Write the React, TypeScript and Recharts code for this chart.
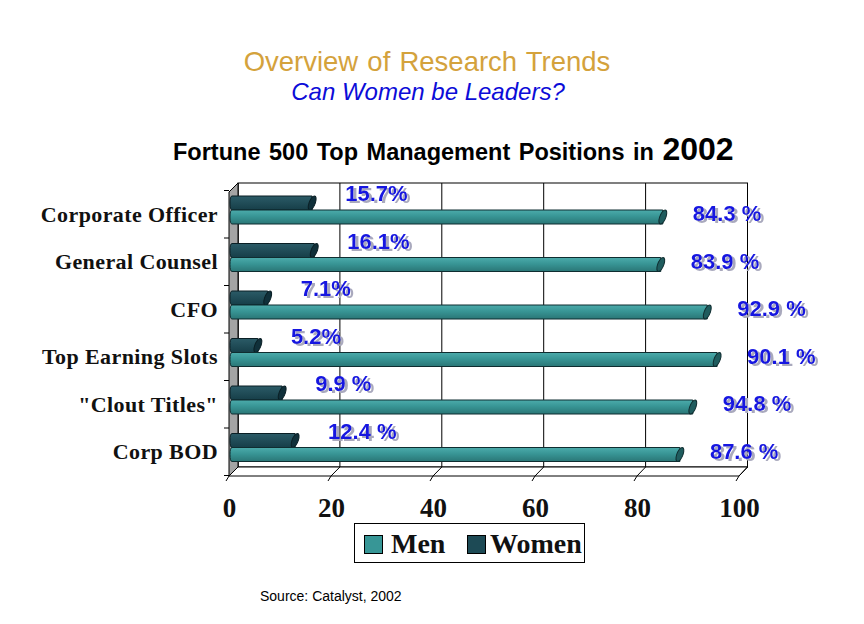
import React from "react";
import { BarChart, Bar, XAxis, YAxis, ReferenceArea, LabelList } from "recharts";

const categories = [
  "Corporate Officer",
  "General Counsel",
  "CFO",
  "Top Earning Slots",
  "\"Clout Titles\"",
  "Corp BOD",
];
const menValues = [84.3, 83.9, 92.9, 94.8, 90.1, 87.6];
const womenValues = [15.7, 16.1, 7.1, 5.2, 9.9, 12.4];
const menLabels = ["84.3 %", "83.9 %", "92.9 %", "90.1 %", "94.8 %", "87.6 %"];
const womenLabels = ["15.7%", "16.1%", "7.1%", "5.2%", "9.9 %", "12.4 %"];
const xTicks = [0, 20, 40, 60, 80, 100];
const seriesNames = ["Men", "Women"];

const data = categories.map((name, i) => ({
  name,
  men: menValues[i],
  women: womenValues[i],
  menLabel: menLabels[i],
  womenLabel: womenLabels[i],
}));

const W = 864;
const H = 624;
const MARGIN = { top: 186, right: 117, bottom: 93, left: 30 };
const Y_AXIS_W = 200;
const X_AXIS_H = 60;
const PLOT_LEFT = MARGIN.left + Y_AXIS_W;
const FRONT_SCALE = 510 / 517;

const SANS = "'Liberation Sans', Arial, sans-serif";
const SERIF = "'Liberation Serif', 'Times New Roman', serif";
const MEN_COLOR = "#379696";
const WOMEN_COLOR = "#1d4a55";
const LABEL_BLUE = "#1414e0";

const frontX = (x: number) => PLOT_LEFT - 0.5 + (x - PLOT_LEFT) * FRONT_SCALE;

const FrameShape = (p: any) => {
  const { x, y, width, height } = p;
  if (x == null || width == null) return null;
  const bx0 = x + 8;
  const bx1 = x + width + 0.5;
  const bTop = y - 3;
  const bBot = y + height - 4;
  const fx0 = x - 1;
  const fx1 = x + width - 8;
  const fBot = y + height + 5;
  const bx = (v: number) => bx0 + ((bx1 - bx0) * v) / 100;
  const fx = (v: number) => fx0 + ((fx1 - fx0) * v) / 100;
  const n = categories.length;
  return (
    <g>
      <rect x={bx0} y={bTop} width={bx1 - bx0} height={bBot - bTop} fill="#fff" stroke="#000" strokeWidth={1} />
      {xTicks.map((v) => (
        <line key={"g" + v} x1={bx(v)} y1={bTop} x2={bx(v)} y2={bBot} stroke="#000" strokeWidth={1} />
      ))}
      <polygon
        points={`${bx0},${bBot} ${bx1},${bBot} ${fx1},${fBot} ${fx0},${fBot}`}
        fill="#fff"
        stroke="#000"
        strokeWidth={1}
      />
      {xTicks.map((v) => (
        <g key={"f" + v}>
          <line x1={bx(v)} y1={bBot} x2={fx(v)} y2={fBot} stroke="#000" strokeWidth={1} />
          <line x1={fx(v)} y1={fBot} x2={fx(v) - 3} y2={fBot + 5} stroke="#000" strokeWidth={1} />
        </g>
      ))}
      <polygon
        points={`${fx0},${y + 6} ${bx0},${bTop} ${bx0},${bBot} ${fx0},${fBot}`}
        fill="#a4a4a4"
        stroke="#000"
        strokeWidth={1}
      />
      {Array.from({ length: n + 1 }).map((_, k) => {
        const ty = y + 4.5 + (k * height) / n;
        return <line key={"t" + k} x1={fx0 - 5} y1={ty} x2={fx0} y2={ty} stroke="#000" strokeWidth={1} />;
      })}
    </g>
  );
};

const makeBarShape = (gradId: string, capFill: string, stroke: string, capShift: number) => (p: any) => {
  const { x, y, width, height } = p;
  if (!width || width <= 0) return null;
  const bodyEnd = x + width + capShift;
  const cy = y + height / 2;
  return (
    <g>
      <path
        d={`M${x + 2},${y} L${bodyEnd},${y} L${bodyEnd},${y + height} L${x + 2},${y + height} Q${x},${y + height} ${x},${cy} Q${x},${y} ${x + 2},${y} Z`}
        fill={`url(#${gradId})`}
        stroke={stroke}
        strokeWidth={1}
      />
      <g transform={`translate(${bodyEnd},${cy}) skewX(-18)`}>
        <ellipse cx={0} cy={0} rx={3.2} ry={height / 2} fill={capFill} stroke={stroke} strokeWidth={1} />
      </g>
    </g>
  );
};

const MenShape = makeBarShape("menGrad", "#1f5c5e", "#0f2d30", -3);
const WomenShape = makeBarShape("womenGrad", "#10303a", "#0a1f25", 1);

const ValueText = ({ x, y, text }: { x: number; y: number; text: string }) => (
  <text
    x={x}
    y={y}
    fill={LABEL_BLUE}
    fontFamily={SANS}
    fontWeight="bold"
    fontSize={22}
    filter="url(#lblShadow)"
  >
    {text}
  </text>
);

const womenLabelContent = (p: any) => {
  const { x, y, width, value } = p;
  if (x == null) return null;
  return <ValueText x={Number(x) + Number(width) + 34} y={Number(y) + 5} text={String(value)} />;
};

const menLabelContent = (p: any) => {
  const { x, y, width, value } = p;
  if (x == null) return null;
  return <ValueText x={Number(x) + Number(width) + 27} y={Number(y) + 11} text={String(value)} />;
};

const YTick = (p: any) => {
  const { x, y, payload } = p;
  return (
    <text
      x={x - 12}
      y={y + 12}
      textAnchor="end"
      fontFamily={SERIF}
      fontWeight="bold"
      fontSize={22}
      letterSpacing={0.4}
      fill="#111"
    >
      {payload.value}
    </text>
  );
};

const XTick = (p: any) => {
  const { x, y, payload } = p;
  return (
    <text x={frontX(x)} y={y + 46} textAnchor="middle" fontFamily={SERIF} fontWeight="bold" fontSize={27} fill="#111">
      {payload.value}
    </text>
  );
};

export default function App() {
  return (
    <div style={{ position: "absolute", left: 0, top: 0, width: W, height: H, background: "#fff" }}>
      <svg width={W} height={H} style={{ position: "absolute", left: 0, top: 0 }}>
        <defs>
          <linearGradient id="menGrad" x1="0" y1="0" x2="0" y2="1">
            <stop offset="0%" stopColor="#4cabab" />
            <stop offset="45%" stopColor="#389595" />
            <stop offset="100%" stopColor="#2a7676" />
          </linearGradient>
          <linearGradient id="womenGrad" x1="0" y1="0" x2="0" y2="1">
            <stop offset="0%" stopColor="#2b5b67" />
            <stop offset="100%" stopColor="#163e48" />
          </linearGradient>
          <filter id="lblShadow" x="-10%" y="-30%" width="130%" height="170%">
            <feDropShadow dx={3} dy={2} stdDeviation={0.6} floodColor="#a9a9bd" floodOpacity={1} />
          </filter>
        </defs>
        <text x={427} y={71} textAnchor="middle" fontFamily={SANS} fontSize={27.5} fill="#d4a23c" wordSpacing={1.5}>
          Overview of Research Trends
        </text>
        <text x={428} y={99.5} textAnchor="middle" fontFamily={SANS} fontStyle="italic" fontSize={24} fill="#0c0cd8">
          Can Women be Leaders?
        </text>
        <text x={173} y={160} fontFamily={SANS} fontWeight="bold" fill="#000" wordSpacing={2}>
          <tspan fontSize={23.5}>Fortune 500 Top Management Positions in </tspan>
          <tspan fontSize={32}>2002</tspan>
        </text>
        <text x={260} y={601} fontFamily={SANS} fontSize={14} fill="#000">
          Source: Catalyst, 2002
        </text>
        <rect x={354.5} y={523.5} width={230} height={39} fill="#fff" stroke="#000" strokeWidth={1} />
        <rect x={364.5} y={535.5} width={18} height={18} fill={MEN_COLOR} stroke="#000" strokeWidth={1} />
        <text x={391} y={553} fontFamily={SERIF} fontWeight="bold" fontSize={28} fill="#111">
          {seriesNames[0]}
        </text>
        <rect x={467.5} y={535.5} width={18} height={18} fill={WOMEN_COLOR} stroke="#000" strokeWidth={1} />
        <text x={490} y={553} fontFamily={SERIF} fontWeight="bold" fontSize={28} fill="#111">
          {seriesNames[1]}
        </text>
      </svg>
      <div style={{ position: "absolute", left: 0, top: 0 }}>
        <BarChart
          width={W}
          height={H}
          data={data}
          layout="vertical"
          margin={MARGIN}
          barSize={14}
          barGap={0}
        >
          <ReferenceArea
            x1={0}
            x2={100}
            ifOverflow="visible"
            zIndex={-100}
            shape={FrameShape}
            fill="none"
            stroke="none"
          />
          <XAxis
            type="number"
            domain={[0, 100]}
            ticks={xTicks}
            height={X_AXIS_H}
            axisLine={false}
            tickLine={false}
            tickSize={0}
            tickMargin={0}
            tick={<XTick />}
            interval={0}
          />
          <YAxis
            type="category"
            dataKey="name"
            width={Y_AXIS_W}
            axisLine={false}
            tickLine={false}
            tickSize={0}
            tickMargin={0}
            tick={<YTick />}
            interval={0}
          />
          <Bar dataKey="women" name={seriesNames[1]} fill={WOMEN_COLOR} shape={WomenShape} isAnimationActive={false}>
            <LabelList dataKey="womenLabel" content={womenLabelContent} />
          </Bar>
          <Bar dataKey="men" name={seriesNames[0]} fill={MEN_COLOR} shape={MenShape} isAnimationActive={false}>
            <LabelList dataKey="menLabel" content={menLabelContent} />
          </Bar>
        </BarChart>
      </div>
    </div>
  );
}
